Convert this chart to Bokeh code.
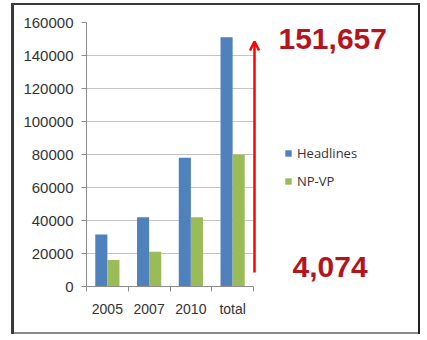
from bokeh.plotting import figure
from bokeh.models import (ColumnDataSource, Range1d, FixedTicker, Legend, LegendItem,
                          Label, Arrow, OpenHead, NumeralTickFormatter)
from bokeh.embed import file_html
from bokeh.resources import INLINE

categories = ["2005", "2007", "2010", "total"]
headlines = [31500, 42000, 78000, 151000]
npvp = [16000, 21000, 42000, 80000]
y_ticks = [0, 20000, 40000, 60000, 80000, 100000, 120000, 140000, 160000]
annot_top = "151,657"
annot_bottom = "4,074"

BLUE = "#4F81BD"
GREEN = "#9BBB59"
DARKRED = "#B4141C"

n = len(categories)
centers = [i + 0.5 for i in range(n)]
bw = 0.29
src = ColumnDataSource(dict(
    xh=[c - bw / 2 for c in centers],
    xn=[c + bw / 2 for c in centers],
    h=headlines, n=npvp))

# frame spans 86..425 px; the category axis occupies 86..253 px
x_end = n * 339 / 167

p = figure(width=427, height=340, output_backend="svg", toolbar_location=None,
           x_range=Range1d(0, x_end), y_range=Range1d(0, 160000),
           min_border_left=86, min_border_right=2, min_border_top=22,
           min_border_bottom=54)
p.outline_line_color = None
p.background_fill_color = None
p.border_fill_color = None
p.styles = {
    "background-color": "white",
    "background-image": ("linear-gradient(#3a3a3a,#3a3a3a), linear-gradient(#3a3a3a,#3a3a3a), "
                         "linear-gradient(#222,#222), linear-gradient(#8c8c8c,#8c8c8c)"),
    "background-repeat": "no-repeat",
    "background-position": "11px 3px, 11px 3px, 418px 3px, 11px 332px",
    "background-size": "3px 331px, 409px 2px, 2px 331px, 409px 2px",
}

rb = p.vbar(x="xh", top="h", width=bw, source=src, fill_color=BLUE, line_color=None)
rg = p.vbar(x="xn", top="n", width=bw, source=src, fill_color=GREEN, line_color=None)

# axes
p.xgrid.grid_line_color = None
p.ygrid.grid_line_color = "#c4c4c4"
p.ygrid.ticker = FixedTicker(ticks=y_ticks)
p.ygrid.cross_bounds = (0, n)

ya = p.yaxis[0]
ya.ticker = FixedTicker(ticks=y_ticks)
ya.formatter = NumeralTickFormatter(format="0")
ya.axis_line_color = "#8c8c8c"
ya.major_tick_line_color = "#8c8c8c"
ya.major_tick_out = 5
ya.major_tick_in = 0
ya.minor_tick_line_color = None
ya.major_label_text_font = "Liberation Sans"
ya.major_label_text_font_size = "15px"
ya.major_label_text_color = "#333333"
ya.major_label_standoff = 8

xa = p.xaxis[0]
xa.bounds = (0, n)
xa.ticker = FixedTicker(ticks=centers, minor_ticks=list(range(n + 1)))
xa.major_label_overrides = {c: lab for c, lab in zip(centers, categories)}
xa.axis_line_color = "#8c8c8c"
xa.major_tick_line_color = None
xa.major_tick_out = 0
xa.major_tick_in = 0
xa.minor_tick_line_color = "#8c8c8c"
xa.minor_tick_out = 5
xa.minor_tick_in = 0
xa.major_label_text_font = "Liberation Sans"
xa.major_label_text_font_size = "14px"
xa.major_label_text_color = "#333333"
xa.major_label_standoff = 9

# legend
legend = Legend(items=[LegendItem(label="Headlines", renderers=[rb]),
                       LegendItem(label="NP-VP", renderers=[rg])],
                location=(198, 95), orientation="vertical")
legend.border_line_color = None
legend.background_fill_alpha = 0
legend.padding = 0
legend.margin = 0
legend.glyph_width = 8
legend.glyph_height = 8
legend.label_height = 20
legend.spacing = 8
legend.label_standoff = 5
legend.label_text_font = "Open Sans"
legend.label_text_font_size = "13px"
legend.label_text_color = "#333333"
p.add_layout(legend)

# annotations
p.add_layout(Label(x=192, y=248, x_units="screen", y_units="screen", text=annot_top,
                   text_font="Liberation Sans", text_font_style="bold",
                   text_font_size="30px", text_color=DARKRED, text_baseline="alphabetic"))
p.add_layout(Label(x=206, y=20, x_units="screen", y_units="screen", text=annot_bottom,
                   text_font="Liberation Sans", text_font_style="bold",
                   text_font_size="30px", text_color=DARKRED, text_baseline="alphabetic"))
p.add_layout(Arrow(x_start=168, y_start=14, x_end=168, y_end=245,
                   start_units="screen", end_units="screen",
                   line_color="red", line_width=2.5,
                   end=OpenHead(size=9, line_color="red", line_width=2.5)))

open("out.html", "w").write(file_html(p, INLINE))
